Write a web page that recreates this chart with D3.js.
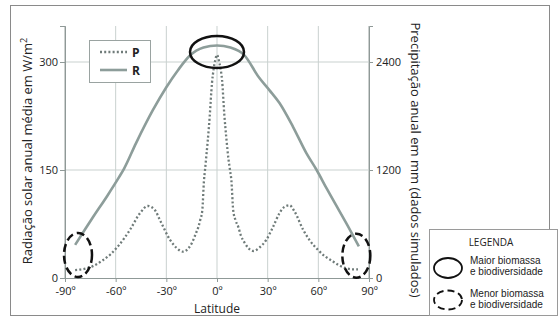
<!DOCTYPE html>
<html><head><meta charset="utf-8">
<script src="https://cdn.jsdelivr.net/npm/d3@7"></script>
<style>
html,body{margin:0;padding:0;background:#fff;}
svg{display:block;font-family:"Open Sans",sans-serif;}
</style></head>
<body>
<svg id="c" width="558" height="318"></svg>
<script>
// Data
const latTicks = [-90,-60,-30,0,30,60,90];
const latLabels = ["-90º","-60º","-30º","0º","30º","60º","90º"];
const leftTicks = [0,150,300];
const rightTicks = [0,1200,2400];
// R: annual mean solar radiation (W/m2)
const rLat = [-84,-78,-73,-65,-58,-55,-48,-38,-30,-23,-16,-8,0,8,16,25,31,37,45,53,59,65,72,78,84];
const rVal = [46,68,86,114,140,152,187,233,265,289,309,320,323,320,310,278,261,243,210,173,150,124,95,70,44];
// P: annual precipitation (mm, simulated)
const pLat = [-84,-78,-73,-68,-63,-59,-55,-51.5,-45.6,-41,-37,-33.7,-27.8,-24,-20,-17,-15,-12.5,-11,-10,-8.7,-7.7,-7.1,-6.3,-5.5,-4.3,-3,-2,-1,0,1,2,3,4.3,5.5,6.8,7.7,8.5,9.6,11,12.6,14,16.6,21.5,25,29.2,33,37,40,43,46,51,55,59.8,64,68.7,72,76.6,80,83.5];
const pVal = [88,104,136,192,264,344,440,536,720,800,760,640,424,336,292,328,384,496,568,640,752,1088,1200,1360,1520,1800,2160,2320,2424,2480,2424,2336,2200,1824,1560,1320,1200,1088,752,640,568,480,384,300,336,424,560,720,792,808,736,536,416,312,240,184,144,108,96,96];
// annotation ellipses (data coords)
const bigLat = [0], bigVal = [314];
const smallLat = [-82.3, 82.5], smallVal = [32, 31];
// legend texts
const legendTitle = "LEGENDA";
const legendItems = [["Maior biomassa","e biodiversidade"],["Menor biomassa","e biodiversidade"]];

const svg = d3.select("#c");
const x = d3.scaleLinear().domain([-90,90]).range([65,369]);
const yL = d3.scaleLinear().domain([0,350]).range([278,26]);
const yR = d3.scaleLinear().domain([0,2800]).range([278,26]);

// outer frame
svg.append("rect").attr("x",10.5).attr("y",5.5).attr("width",539).attr("height",310)
  .attr("fill","none").attr("stroke","#8a8a8a").attr("stroke-width",1);

const grid = svg.append("g");
const gc = "#c9d1cf";
latTicks.forEach(t=>{
  grid.append("line").attr("x1",x(t)).attr("x2",x(t)).attr("y1",yL(350)).attr("y2",yL(0))
    .attr("stroke", (t===-90||t===90)?"#9aa3a1":gc).attr("stroke-width",1);
});
leftTicks.filter(t=>t>0).forEach(t=>{
  grid.append("line").attr("x1",x(-90)).attr("x2",x(90)).attr("y1",yL(t)).attr("y2",yL(t))
    .attr("stroke",gc).attr("stroke-width",1);
});

// axes
const axL = d3.axisLeft(yL).tickValues(leftTicks).tickSize(5).tickPadding(2);
const axR = d3.axisRight(yR).tickValues(rightTicks).tickSize(4).tickPadding(3).tickFormat(d3.format("d"));
const axB = d3.axisBottom(x).tickValues(latTicks).tickSize(4).tickPadding(5).tickFormat((d,i)=>latLabels[i]);
function styleAxis(g){
  g.selectAll("path.domain").attr("stroke","#8f9997");
  g.selectAll(".tick line").attr("stroke","#8f9997");
  g.selectAll("text").attr("fill","#222").style("font-size","11px").style("font-family","Open Sans");
}
svg.append("g").attr("transform",`translate(${x(-90)},0)`).call(axL).call(styleAxis);
svg.append("g").attr("transform",`translate(${x(90)},0)`).call(axR).call(styleAxis);
svg.append("g").attr("transform",`translate(0,${yL(0)})`).call(axB).call(styleAxis);

// lines
const rLine = d3.line().x((d,i)=>x(rLat[i])).y(d=>yL(d)).curve(d3.curveMonotoneX);
svg.append("path").attr("d",rLine(rVal)).attr("fill","none").attr("stroke","#8d9d9a").attr("stroke-width",2.6);
const pLine = d3.line().x((d,i)=>x(pLat[i])).y(d=>yR(d)).curve(d3.curveMonotoneX);
svg.append("path").attr("d",pLine(pVal)).attr("fill","none").attr("stroke","#6f7b79")
  .attr("stroke-width",2.3).attr("stroke-dasharray","2,2.2");

// annotation ellipses
svg.append("ellipse").attr("cx",x(bigLat[0])).attr("cy",yL(bigVal[0])).attr("rx",27).attr("ry",16)
  .attr("fill","none").attr("stroke","#111").attr("stroke-width",2.5);
smallLat.forEach((l,i)=>{
  svg.append("ellipse").attr("cx",x(l)).attr("cy",yL(smallVal[i])).attr("rx",14).attr("ry",22)
    .attr("fill","none").attr("stroke","#111").attr("stroke-width",2.5).attr("stroke-dasharray","8,4");
});

// series legend
const lg = svg.append("g");
lg.append("rect").attr("x",89.5).attr("y",40.5).attr("width",61).attr("height",42)
  .attr("fill","#fff").attr("stroke","#9aa3a1");
lg.append("line").attr("x1",100).attr("x2",127).attr("y1",52).attr("y2",52)
  .attr("stroke","#6f7b79").attr("stroke-width",2.3).attr("stroke-dasharray","2,2.2");
lg.append("line").attr("x1",100).attr("x2",127).attr("y1",70).attr("y2",70)
  .attr("stroke","#8d9d9a").attr("stroke-width",2.6);
lg.append("text").attr("x",132).attr("y",56.5).text("P").style("font-size","12px").style("font-weight","bold").attr("fill","#222");
lg.append("text").attr("x",132).attr("y",74.5).text("R").style("font-size","12px").style("font-weight","bold").attr("fill","#222");

// axis titles
svg.append("text").attr("transform","translate(32,151) rotate(-90)").attr("text-anchor","middle")
  .style("font-size","13px").attr("fill","#222")
  .html('Radiação solar anual média em W/m<tspan dy="-5" font-size="9px">2</tspan>');
svg.append("text").attr("transform","translate(411,160) rotate(90)").attr("text-anchor","middle")
  .style("font-size","13px").attr("fill","#222")
  .text("Precipitação anual em mm (dados simulados)");
svg.append("text").attr("x",217).attr("y",313).attr("text-anchor","middle")
  .style("font-size","12px").attr("fill","#222").text("Latitude");

// LEGENDA box
const L = svg.append("g");
L.append("rect").attr("x",429.5).attr("y",229.5).attr("width",128).attr("height",86)
  .attr("fill","#fff").attr("stroke","#9a9a9a");
L.append("text").attr("x",491).attr("y",245.5).attr("text-anchor","middle").style("font-size","10px").attr("fill","#222").text(legendTitle);
L.append("ellipse").attr("cx",448).attr("cy",268).attr("rx",14).attr("ry",10).attr("fill","none").attr("stroke","#111").attr("stroke-width",1.8);
L.append("ellipse").attr("cx",448).attr("cy",300).attr("rx",14).attr("ry",9.5).attr("fill","none").attr("stroke","#111").attr("stroke-width",1.8).attr("stroke-dasharray","7,4");
const itemY = [264, 297];
legendItems.forEach((lines,i)=>{
  lines.forEach((s,j)=>{
    L.append("text").attr("x",470).attr("y",itemY[i]+j*11)
      .style("font-size","10px").style("font-family","'Liberation Sans'").attr("fill","#222").text(s);
  });
});
</script>
</body></html>
